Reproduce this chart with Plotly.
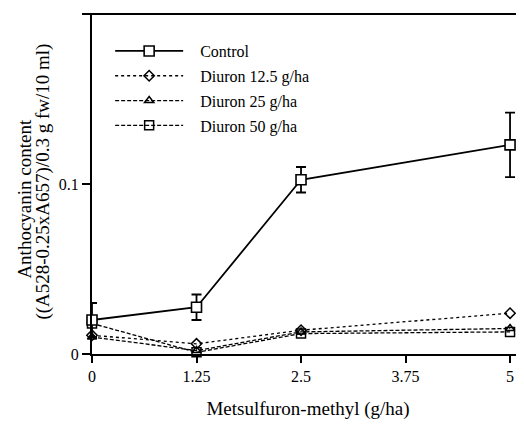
import plotly.graph_objects as go

doses = [0, 1.25, 2.5, 3.75, 5]
x_vals = [0, 1.25, 2.5, 5]
control = [0.020, 0.0275, 0.1025, 0.123]
control_err = [0.010, 0.0075, 0.0075, 0.019]
diuron_12_5 = [0.011, 0.006, 0.014, 0.024]
diuron_25 = [0.010, 0.002, 0.013, 0.015]
diuron_50 = [0.018, 0.001, 0.012, 0.013]
names = ["Control", "Diuron 12.5 g/ha", "Diuron 25 g/ha", "Diuron 50 g/ha"]
y_title = ["Anthocyanin content", "((A528-0.25xA657)/0.3 g fw/10 ml)"]
x_title = "Metsulfuron-methyl (g/ha)"

font = "Liberation Serif"
pad = "\u00a0\u00a0\u00a0"
fig = go.Figure()

fig.add_trace(go.Scatter(x=x_vals, y=diuron_50, name=pad + names[3], mode="lines+markers",
    line=dict(color="black", width=1.3, dash="4px,2px"),
    marker=dict(symbol="square-open", size=9, color="black", line=dict(width=1.5)),
    legendrank=4, legendgroup="d50", cliponaxis=False))
fig.add_trace(go.Scatter(x=x_vals, y=diuron_25, name=pad + names[2], mode="lines+markers",
    line=dict(color="black", width=1.3, dash="4px,2px"),
    marker=dict(symbol="triangle-up-open", size=8, color="black", line=dict(width=1.5)),
    legendrank=3, legendgroup="d25", cliponaxis=False))
fig.add_trace(go.Scatter(x=x_vals, y=diuron_12_5, name=pad + names[1], mode="lines+markers",
    line=dict(color="black", width=1.3, dash="dot"),
    marker=dict(symbol="diamond-open", size=8, color="black", line=dict(width=1.5)),
    legendrank=2, legendgroup="d12", cliponaxis=False))
fig.add_trace(go.Scatter(x=x_vals, y=control, name=pad + names[0], mode="lines+markers",
    line=dict(color="black", width=1.8),
    marker=dict(symbol="square", size=10, color="white", line=dict(width=1.6, color="black")),
    error_y=dict(type="data", array=control_err, color="black", thickness=1.8, width=5),
    legendrank=1, legendgroup="c", cliponaxis=False))

axis_common = dict(showgrid=False, zeroline=False, showline=True, linecolor="black",
                   linewidth=2, ticks="outside", tickwidth=1.5, tickcolor="black",
                   tickfont=dict(family=font, size=16, color="black"))

fig.update_layout(
    width=516, height=416,
    margin=dict(l=84, r=0, t=6, b=70),
    plot_bgcolor="white", paper_bgcolor="white",
    font=dict(family=font, size=16, color="black"),
    showlegend=True,
    legend=dict(x=0.042, y=0.941, xanchor="left", yanchor="top", bgcolor="rgba(0,0,0,0)",
                font=dict(family=font, size=16, color="black"), tracegroupgap=1,
                itemwidth=68),
    xaxis=dict(range=[0, 5.167], tickvals=doses, ticktext=["0", "1.25", "2.5", "3.75", "5"],
               ticklen=7,
               title=dict(text=x_title, standoff=17, font=dict(family=font, size=19)),
               **axis_common),
    yaxis=dict(range=[0, 0.2], tickvals=[0, 0.1, 0.2], ticktext=["0", "0.1", "0.2"],
               ticklen=8, **axis_common),
)
fig.add_shape(type="line", xref="paper", yref="paper", x0=-0.021, x1=1, y0=1, y1=1,
              line=dict(color="black", width=2))
fig.add_annotation(text=y_title[0], xref="paper", yref="paper", x=0, y=0.457,
                   xanchor="center", yanchor="middle",
                   xshift=-67, textangle=-90, showarrow=False,
                   font=dict(family=font, size=19, color="black"))
fig.add_annotation(text=y_title[1], xref="paper", yref="paper", x=0, y=0.507,
                   xanchor="center", yanchor="middle",
                   xshift=-49, textangle=-90, showarrow=False,
                   font=dict(family=font, size=19, color="black"))

fig.write_html("out.html")
